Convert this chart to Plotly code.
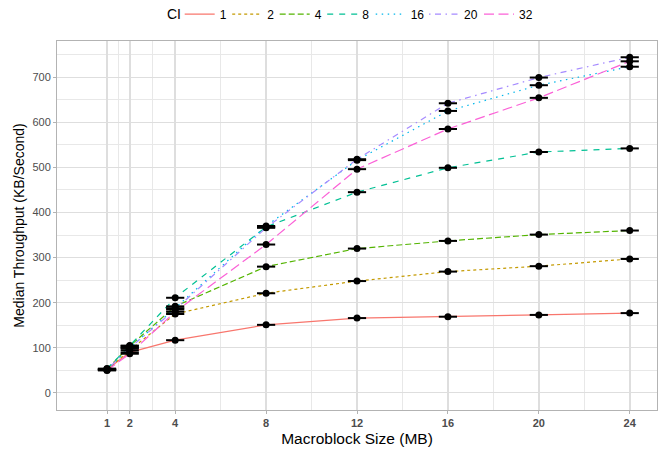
import plotly.graph_objects as go

sizes = [1, 2, 4, 8, 12, 16, 20, 24]
ci_labels = ["1", "2", "4", "8", "16", "20", "32"]
ci1 = [52, 90, 117, 151, 166, 169, 173, 177]
ci2 = [51, 95, 175, 221, 248, 269, 281, 297]
ci4 = [53, 104, 192, 280, 320, 337, 351, 360]
ci8 = [54, 105, 211, 368, 445, 499, 534, 542]
ci16 = [52, 100, 188, 370, 516, 625, 682, 723]
ci20 = [52, 100, 185, 366, 518, 642, 699, 744]
ci32 = [50, 87, 180, 329, 496, 585, 654, 735]
series = [ci1, ci2, ci4, ci8, ci16, ci20, ci32]

x_ticks = [1, 2, 4, 8, 12, 16, 20, 24]
x_minor = [1.5, 3, 6, 10, 14, 18, 22]
y_ticks = [0, 100, 200, 300, 400, 500, 600, 700]

colors = ["#F8766D", "#C49A00", "#53B400", "#00C094", "#00B6EB", "#A58AFF", "#FB61D7"]
dashes = ["solid", "3px,3px", "6px,3px", "6px,6px", "1.5px,4.5px",
          "1.5px,4.5px,6px,4.5px", "10px,4.5px"]
entry_w = [2.5, 2.5, 2.5, 3.5, 8.3, 10, 10]

fig = go.Figure()
for lab, vals, c, d, ew in zip(ci_labels, series, colors, dashes, entry_w):
    fig.add_trace(go.Scatter(x=sizes, y=vals, mode="lines", name=lab, legendwidth=ew,
                             line=dict(color=c, width=1.2, dash=d)))

for vals in series:
    fig.add_trace(go.Scatter(x=sizes, y=vals, mode="markers", showlegend=False,
                             hoverinfo="skip",
                             marker=dict(symbol="line-ew", size=13, color="black",
                                         line=dict(color="black", width=2))))
    fig.add_trace(go.Scatter(x=sizes, y=vals, mode="markers", showlegend=False,
                             marker=dict(symbol="circle", size=7, color="black")))

fig.add_annotation(text="CI", xref="paper", yref="paper", x=0.18, y=1.073,
                   xanchor="left", yanchor="middle", showarrow=False,
                   font=dict(size=14, color="black"))

fig.update_layout(
    width=660, height=452,
    margin=dict(l=57, r=3, t=41, b=42, autoexpand=False),
    paper_bgcolor="white", plot_bgcolor="white",
    font=dict(family="Liberation Sans, Arial, sans-serif", color="black"),
    legend=dict(orientation="h", x=0.2045, xanchor="left", y=1.073, yanchor="middle",
                font=dict(size=12), bgcolor="rgba(0,0,0,0)"),
    xaxis=dict(range=[-1.2, 25.2], tickvals=x_ticks, ticktext=[str(v) for v in x_ticks],
               tickfont=dict(size=11, color="#4D4D4D", family="Liberation Sans, Arial, sans-serif", weight="bold"),
               showgrid=True, gridcolor="#DEDEDE", gridwidth=2,
               minor=dict(tickvals=x_minor, showgrid=True, gridcolor="#E8E8E8", gridwidth=1, ticks=""),
               ticks="outside", ticklen=3, tickcolor="#B3B3B3",
               showline=True, linecolor="#B3B3B3", linewidth=1, mirror=True,
               zeroline=False, automargin=False,
               title=dict(text="Macroblock Size (MB)", font=dict(size=15.5), standoff=4)),
    yaxis=dict(range=[-37.7, 780], tickvals=y_ticks,
               tickfont=dict(size=11, color="#4D4D4D"),
               showgrid=True, gridcolor="#DEDEDE", gridwidth=1,
               minor=dict(tick0=50, dtick=100, showgrid=True, gridcolor="#E8E8E8", gridwidth=1, ticks=""),
               ticks="outside", ticklen=3, tickcolor="#B3B3B3",
               showline=True, linecolor="#B3B3B3", linewidth=1, mirror=True,
               zeroline=False, automargin=False,
               title=dict(text="Median Throughput (KB/Second)", font=dict(size=14), standoff=4)),
)

fig.write_html("out.html", config={"displayModeBar": False},
               post_script="document.body.style.margin='0';")
